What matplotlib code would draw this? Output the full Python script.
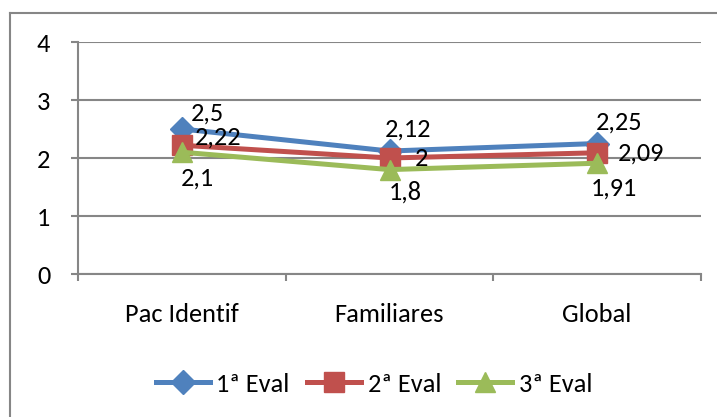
import matplotlib
matplotlib.use("Agg")
import matplotlib.pyplot as plt
from matplotlib.lines import Line2D

plt.rcParams['font.family'] = ['Carlito', 'Lato', 'DejaVu Sans']

categories = ["Pac Identif", "Familiares", "Global"]
series_names = ["1ª Eval", "2ª Eval", "3ª Eval"]
eval1 = [2.5, 2.12, 2.25]
eval2 = [2.22, 2.0, 2.09]
eval3 = [2.1, 1.8, 1.91]
labels1 = ["2,5", "2,12", "2,25"]
labels2 = ["2,22", "2", "2,09"]
labels3 = ["2,1", "1,8", "1,91"]

colors = ["#4F81BD", "#C0504D", "#9BBB59"]
markers = ["D", "s", "^"]
msizes = [12, 14, 15]
# label offsets in pixels (dx, dy) per series
offsets = [[(26, 16), (19, 22), (22, 21)],
           [(36, 8), (32, 0), (44, 0)],
           [(16, -26), (16, -22), (17, -25)]]

fig = plt.figure(figsize=(7.17, 4.17), dpi=100)
ax = fig.add_axes([78 / 717, 1 - 274 / 417, (701 - 78) / 717, (274 - 42) / 417])

x = range(len(categories))
all_vals = [eval1, eval2, eval3]
all_labels = [labels1, labels2, labels3]
for i in range(3):
    ax.plot(x, all_vals[i], color=colors[i], lw=3.6, marker=markers[i],
            markersize=msizes[i], label=series_names[i], zorder=3 + i)
    for j in range(3):
        dx, dy = offsets[i][j]
        ax.annotate(all_labels[i][j], (j, all_vals[i][j]),
                    xytext=(dx * 0.72, dy * 0.72), textcoords="offset points",
                    ha="center", va="center", fontsize=19, zorder=10)

ax.set_xlim(-0.5, 2.5)
ax.set_ylim(0, 4)
ax.set_yticks([0, 1, 2, 3, 4])
ax.yaxis.grid(True, color="#868686", lw=1.5)
ax.set_axisbelow(True)
ax.set_xticks([0, 1, 2])
ax.set_xticklabels(categories, fontsize=19)
ax.set_xticks([-0.5, 0.5, 1.5, 2.5], minor=True)
ax.tick_params(axis="x", which="major", length=0, pad=21)
ax.tick_params(axis="x", which="minor", length=5, width=1.5, color="#868686")
ax.tick_params(axis="y", length=5, width=1.5, color="#868686", labelsize=19, pad=15)
for side in ["top", "right"]:
    ax.spines[side].set_visible(False)
ax.spines["left"].set_color("#868686")
ax.spines["left"].set_linewidth(1.5)
ax.spines["bottom"].set_color("#868686")
ax.spines["bottom"].set_linewidth(1.5)

fig.legend(loc="center", bbox_to_anchor=(374 / 717, 1 - 384 / 417), ncol=3,
           frameon=False, fontsize=19, handlelength=2.05, columnspacing=0.65,
           handletextpad=0.25)

# chart border (left and top edges)
fig.add_artist(Line2D([10 / 717, 10 / 717], [0, 1 - 13 / 417], color="#868686", lw=1.5,
                      transform=fig.transFigure))
fig.add_artist(Line2D([10 / 717, 1], [1 - 13 / 417, 1 - 13 / 417], color="#868686", lw=1.5,
                      transform=fig.transFigure))

fig.savefig("out.png", dpi=100)
